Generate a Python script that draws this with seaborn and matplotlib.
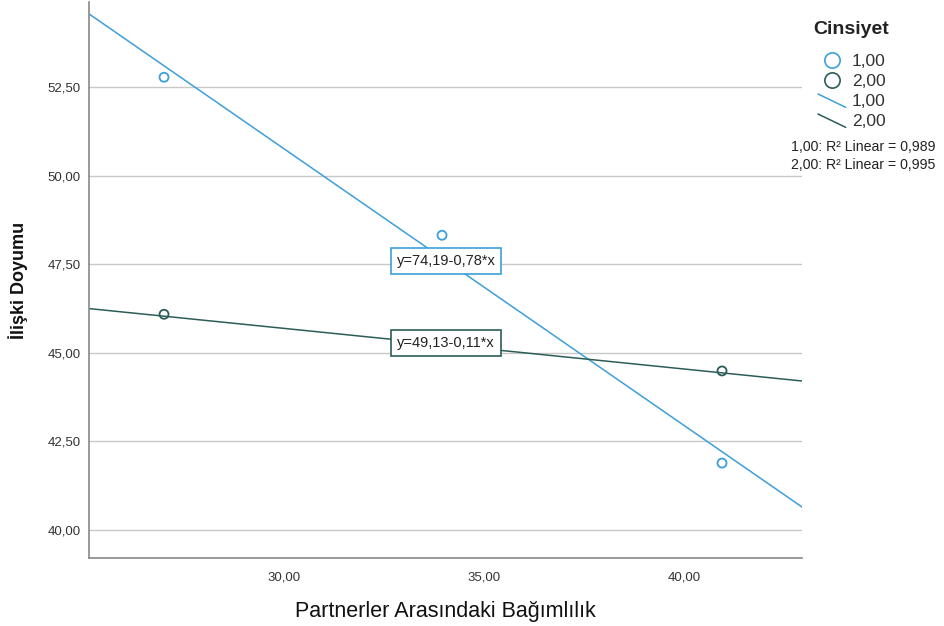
import matplotlib
matplotlib.use("Agg")
import matplotlib.pyplot as plt
from matplotlib.lines import Line2D
from matplotlib.legend_handler import HandlerBase
import numpy as np
import pandas as pd
import seaborn as sns

# veri
gruplar = ["1,00", "2,00"]
x1 = [27.0, 33.95, 40.95]
y1 = [52.78, 48.32, 41.89]
x2 = [27.0, 33.95, 40.95]
y2 = [46.09, 45.13, 44.49]
denklemler = ["y=74,19-0,78*x", "y=49,13-0,11*x"]
r2_yazi = ["1,00: R² Linear = 0,989", "2,00: R² Linear = 0,995"]
renkler = ["#3d9fd9", "#2b5d58"]

yticks = [40.0, 42.5, 45.0, 47.5, 50.0, 52.5]
xticks = [30.0, 35.0, 40.0]

df = pd.DataFrame({
    "x": x1 + x2,
    "y": y1 + y2,
    "Cinsiyet": [gruplar[0]] * len(x1) + [gruplar[1]] * len(x2),
})

sns.set_style("white")
plt.rcParams["font.family"] = ["Liberation Sans", "DejaVu Sans"]

fig = plt.figure(figsize=(9.45, 6.26), dpi=100)
ax = fig.add_axes([0.0942, 0.1086, 0.7545, 0.888])
ax.set_xlim(25.125, 42.95)
ax.set_ylim(39.21, 54.9)

ax.set_yticks(yticks)
ax.set_xticks(xticks)
ax.yaxis.grid(True, color="#c8c8c8", lw=1)
ax.set_axisbelow(True)

kayma = [0.0, 0.05]  # kutu konum düzeltmesi
for i, g in enumerate(gruplar):
    d = df[df["Cinsiyet"] == g]
    sns.regplot(data=d, x="x", y="y", ax=ax, scatter=False, ci=None,
                truncate=False, line_kws=dict(color=renkler[i], lw=1.1))
    sns.scatterplot(data=d, x="x", y="y", ax=ax, color=renkler[i],
                    facecolors="none", edgecolor=renkler[i], s=42,
                    linewidth=1.3, zorder=4)
    # denklem kutusu
    b, a = np.polyfit(d["x"], d["y"], 1)
    xm = d["x"].iloc[1] + 0.1
    ax.text(xm, a + b * xm + kayma[i], denklemler[i],
            ha="center", va="center", fontsize=10.5, color="#222222", zorder=6,
            bbox=dict(boxstyle="square,pad=0.4", fc="white", ec=renkler[i], lw=1.2))

ax.set_yticklabels([f"{v:.2f}".replace(".", ",") for v in yticks], fontsize=9.5, color="#333333")
ax.set_xticklabels([f"{v:.2f}".replace(".", ",") for v in xticks], fontsize=9.5, color="#333333")
ax.tick_params(axis="y", length=0, pad=6)
ax.tick_params(axis="x", length=0, pad=10)
for s in ["top", "right"]:
    ax.spines[s].set_visible(False)
for s in ["left", "bottom"]:
    ax.spines[s].set_color("#888888")
    ax.spines[s].set_linewidth(1.2)

ax.set_xlabel("Partnerler Arasındaki Bağımlılık", fontsize=15.5, labelpad=12, color="#111111")
ax.set_ylabel("İlişki Doyumu", fontsize=13, labelpad=14, fontweight="bold", color="#111111")


class CaprazCizgi(HandlerBase):
    def create_artists(self, legend, orig, xd, yd, w, h, fontsize, trans):
        ln = Line2D([-xd, -xd + w], [-yd + h * 1.0, -yd - h * 0.1],
                    color=orig.get_color(), lw=1.1)
        ln.set_transform(trans)
        return [ln]


handles = []
for c in renkler:
    handles.append(Line2D([], [], ls="none", marker="o", markersize=11,
                          markerfacecolor="none", markeredgecolor=c, markeredgewidth=1.2))
cizgiler = [Line2D([], [], color=c) for c in renkler]
handles += cizgiler
labels = gruplar + gruplar

fig.text(851 / 945, 1 - 29 / 626, "Cinsiyet", fontsize=14, fontweight="bold",
         ha="center", va="center", color="#222222")
leg = fig.legend(handles, labels, loc="upper left",
                 bbox_to_anchor=(811 / 945, 1 - 47 / 626), frameon=False, fontsize=12.5,
                 handlelength=1.6, handletextpad=0.35, labelspacing=0.28,
                 borderaxespad=0, borderpad=0.4,
                 handler_map={c: CaprazCizgi() for c in cizgiler})
for t in leg.get_texts():
    t.set_color("#333333")

fig.text(791 / 945, 1 - 147 / 626, r2_yazi[0], fontsize=10.2, va="center", color="#222222")
fig.text(791 / 945, 1 - 165 / 626, r2_yazi[1], fontsize=10.2, va="center", color="#222222")

fig.savefig("out.png", dpi=100)
